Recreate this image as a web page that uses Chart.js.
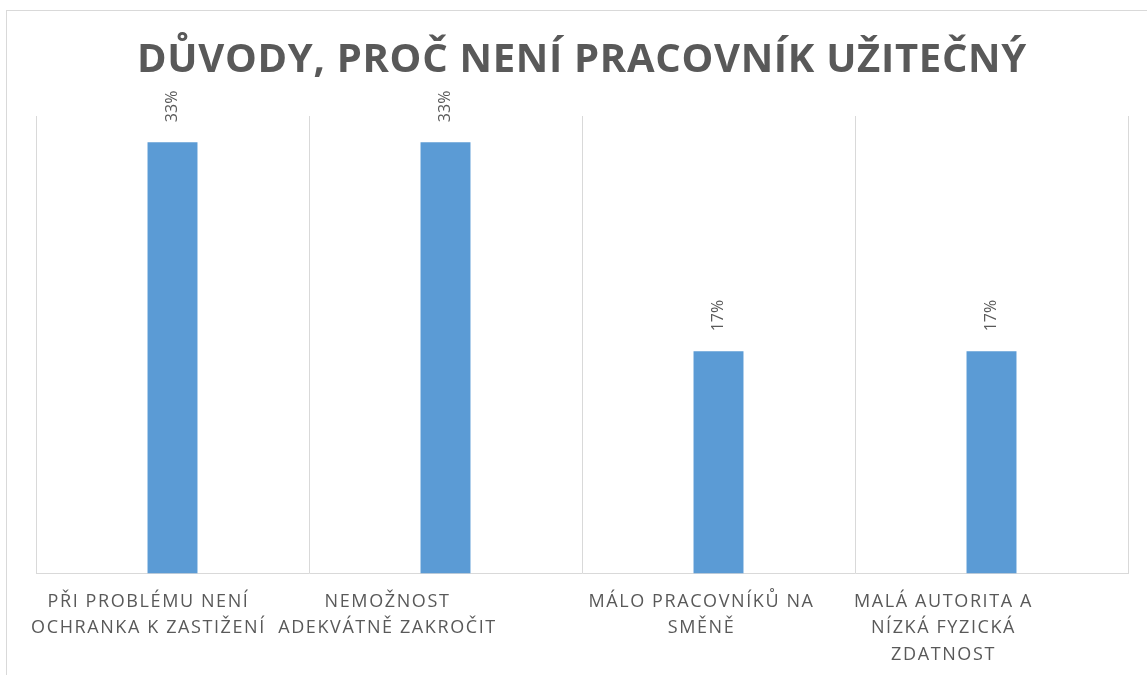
<!DOCTYPE html>
<html>
<head>
<meta charset="utf-8">
<script src="https://cdn.jsdelivr.net/npm/chart.js@4/dist/chart.umd.min.js"></script>
<style>
  html, body { margin: 0; padding: 0; background: #ffffff; }
  #wrap { width: 1147px; height: 675px; position: relative; }
</style>
</head>
<body>
<div id="wrap"><canvas id="c" width="1147" height="675"></canvas></div>
<script>
const titleText = 'DŮVODY, PROČ NENÍ PRACOVNÍK UŽITEČNÝ';
const categories = [
  ['PŘI PROBLÉMU NENÍ', 'OCHRANKA K ZASTIŽENÍ'],
  ['NEMOŽNOST', 'ADEKVÁTNĚ ZAKROČIT'],
  ['MÁLO PRACOVNÍKŮ NA', 'SMĚNĚ'],
  ['MALÁ AUTORITA A', 'NÍZKÁ FYZICKÁ', 'ZDATNOST']
];
const values = [33, 33, 17, 17];
const yMax = 35;

const GRAY_TEXT = '#595959';
const GRID = '#D9D9D9';
const BAR = '#5B9BD5';

const framePlugin = {
  id: 'frame',
  afterInit(chart) {
    const tb = chart.titleBlock;
    if (tb) {
      const orig = tb.draw.bind(tb);
      tb.draw = function () {
        const ctx = chart.ctx;
        ctx.save();
        ctx.letterSpacing = '0.7px';
        orig();
        ctx.restore();
      };
    }
  },
  beforeDraw(chart) {
    const ctx = chart.ctx;
    ctx.save();
    ctx.fillStyle = '#ffffff';
    ctx.fillRect(0, 0, chart.width, chart.height);
    ctx.strokeStyle = GRID;
    ctx.lineWidth = 1;
    ctx.strokeRect(6.5, 10.5, 1400, 900);
    ctx.restore();
    ctx.letterSpacing = '1.6px';
    // Excel-like text-box placement of the category labels
    const labelShift = [-24, -58, -17, -48];
    const xs = chart.scales.x;
    const items = xs.getLabelItems();
    if (!items._shifted) {
      items.forEach((it, i) => {
        const idx = Math.min(i, labelShift.length - 1);
        it.options.translation[0] += labelShift[idx];
      });
      items._shifted = true;
    }
  },
  afterDatasetsDraw(chart) {
    const ctx = chart.ctx;
    const meta = chart.getDatasetMeta(0);
    ctx.save();
    ctx.letterSpacing = '0px';
    ctx.font = '16px "Open Sans"';
    ctx.fillStyle = GRAY_TEXT;
    ctx.textAlign = 'left';
    ctx.textBaseline = 'middle';
    meta.data.forEach((bar, i) => {
      ctx.save();
      ctx.translate(bar.x, bar.y - 20);
      ctx.rotate(-Math.PI / 2);
      ctx.fillText(values[i] + '%', 0, 0);
      ctx.restore();
    });
    ctx.restore();
  },
  afterDraw(chart) {
    chart.ctx.letterSpacing = '0px';
  }
};

new Chart(document.getElementById('c'), {
  type: 'bar',
  data: {
    labels: categories,
    datasets: [{
      data: values,
      backgroundColor: BAR,
      borderWidth: 0,
      barPercentage: 0.183,
      categoryPercentage: 1
    }]
  },
  options: {
    responsive: false,
    animation: false,
    events: [],
    layout: { padding: { left: 36, right: 19, top: 0, bottom: -8 } },
    plugins: {
      legend: { display: false },
      tooltip: { enabled: false },
      title: {
        display: true,
        text: titleText,
        color: GRAY_TEXT,
        font: { family: '"Open Sans"', size: 40, weight: 'bold', lineHeight: 1.2 },
        padding: { top: 36.6, bottom: 31.4 }
      }
    },
    scales: {
      x: {
        grid: { display: true, color: GRID, lineWidth: 1, offset: true, drawTicks: false },
        border: { display: true, color: GRID, width: 1 },
        ticks: {
          color: GRAY_TEXT,
          font: { family: '"Open Sans"', size: 18, lineHeight: 1.47 },
          padding: 15,
          maxRotation: 0,
          minRotation: 0,
          autoSkip: false
        }
      },
      y: {
        display: false,
        min: 0,
        max: yMax,
        grid: { display: false }
      }
    }
  },
  plugins: [framePlugin]
});
</script>
</body>
</html>
